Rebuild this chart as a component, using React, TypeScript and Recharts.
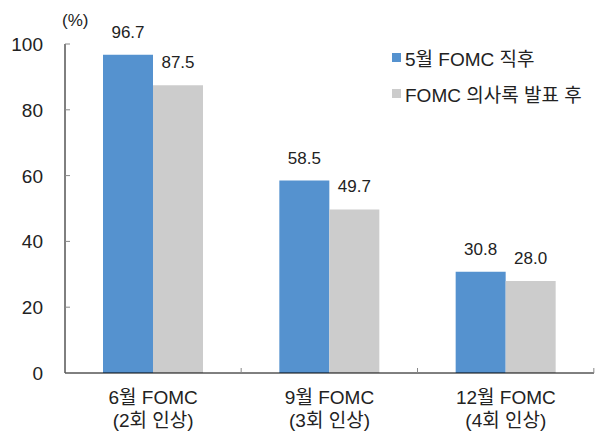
import { Bar, BarChart, LabelList, XAxis, YAxis } from "recharts";

const CATEGORIES = ["6월 FOMC\n(2회 인상)", "9월 FOMC\n(3회 인상)", "12월 FOMC\n(4회 인상)"];
const AFTER_MAY = [96.7, 58.5, 30.8];
const AFTER_MINUTES = [87.5, 49.7, 28.0];
const Y_TICKS = [0, 20, 40, 60, 80, 100];
const SERIES_NAMES = ["5월 FOMC 직후", "FOMC 의사록 발표 후"];

const BLUE = "#5592cf";
const GRAY = "#cccccc";
const TEXT = "#222222";
const FONT = "'Liberation Sans', 'Noto Sans CJK KR', sans-serif";

const data = CATEGORIES.map((name, i) => ({
  name,
  may: AFTER_MAY[i],
  minutes: AFTER_MINUTES[i],
}));

// y ticks: label on the left, short gray mark pointing into the plot
function YTick(props: any) {
  const { x, y, payload } = props;
  return (
    <g>
      <line x1={x + 22} x2={x + 27} y1={y} y2={y} stroke="#888" />
      <text x={x} y={y} dy={7} textAnchor="end" fontSize={19} fill={TEXT} fontFamily={FONT}>
        {payload.value}
      </text>
    </g>
  );
}

// x ticks: two-line label, plus a small gray mark at the right edge of each category
function XTick(props: any) {
  const { x, y, payload } = props;
  const lines = String(payload.value).split("\n");
  return (
    <g>
      <line x1={x + 88} x2={x + 88} y1={y - 24} y2={y - 29} stroke="#888" />
      {lines.map((line, i) => (
        <text
          key={i}
          x={x}
          y={y + 23 * i}
          dy={7}
          textAnchor="middle"
          fontSize={19}
          fill={TEXT}
          fontFamily={FONT}
        >
          {line}
        </text>
      ))}
    </g>
  );
}

function LegendBox() {
  const colors = [BLUE, GRAY];
  return (
    <div
      style={{
        position: "absolute",
        left: 392,
        top: 39,
        fontFamily: FONT,
        fontSize: 19,
        color: TEXT,
      }}
    >
      {SERIES_NAMES.map((n, i) => (
        <div key={n} style={{ display: "flex", alignItems: "center", height: 36 }}>
          <span style={{ width: 9, height: 9, background: colors[i], marginRight: 4 }} />
          <span>{n}</span>
        </div>
      ))}
    </div>
  );
}

export default function App() {
  return (
    <div style={{ position: "absolute", left: 0, top: 0, width: 599, height: 434, background: "#fff" }}>
      <style>{`body{margin:0}`}</style>
      <BarChart
        width={599}
        height={434}
        data={data}
        margin={{ top: 44, right: 5, bottom: 0, left: 0 }}
        barGap={0}
        barSize={50}
      >
        <YAxis
          domain={[0, 100]}
          ticks={Y_TICKS}
          width={65}
          axisLine={{ stroke: "#000" }}
          tickLine={false}
          tickSize={0}
          tickMargin={22}
          tick={<YTick />}
          interval={0}
        />
        <XAxis
          dataKey="name"
          height={61}
          axisLine={{ stroke: "#000" }}
          tickLine={false}
          tickSize={0}
          tickMargin={24}
          tick={<XTick />}
          interval={0}
        />
        <Bar dataKey="may" name={SERIES_NAMES[0]} fill={BLUE} isAnimationActive={false}>
          <LabelList
            dataKey="may"
            position="top"
            offset={17}
            formatter={(v: any) => Number(v).toFixed(1)}
            style={{ fontSize: 17, fill: TEXT, fontFamily: FONT }}
          />
        </Bar>
        <Bar dataKey="minutes" name={SERIES_NAMES[1]} fill={GRAY} isAnimationActive={false}>
          <LabelList
            dataKey="minutes"
            position="top"
            offset={17}
            formatter={(v: any) => Number(v).toFixed(1)}
            style={{ fontSize: 17, fill: TEXT, fontFamily: FONT }}
          />
        </Bar>
      </BarChart>
      <div
        style={{
          position: "absolute",
          left: 62,
          top: 11,
          fontFamily: FONT,
          fontSize: 17,
          color: TEXT,
        }}
      >
        (%)
      </div>
      <LegendBox />
    </div>
  );
}
